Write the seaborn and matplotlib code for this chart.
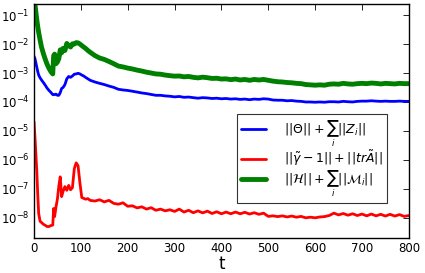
import numpy as np
import pandas as pd
import matplotlib
matplotlib.use("Agg")
import matplotlib.pyplot as plt
import seaborn as sns

# time samples (denser where the curves move fast)
t = [0, 2, 4, 6, 8, 10, 13, 16, 20, 24, 28, 32, 36, 40, 42, 44, 47, 50, 53, 56,
     59, 62, 66, 70, 74, 78, 82, 86, 90, 94, 98, 102, 106, 110, 115, 120,
     130, 140, 150, 160, 170, 180, 190, 200, 210, 220, 230, 240, 250, 260,
     270, 280, 290, 300, 310, 320, 330, 340, 350, 360, 370, 380, 390, 400,
     410, 420, 430, 440, 450, 460, 470, 480, 490, 500, 510, 520, 530, 540,
     550, 560, 570, 580, 590, 600, 610, 620, 630, 640, 650, 660, 670, 680,
     690, 700, 710, 720, 730, 740, 750, 760, 770, 780, 790, 800]

theta_z = [3.8e-3, 3.16e-3, 2.24e-3, 1.58e-3, 1.12e-3, 8.5e-4, 6.8e-4, 5.75e-4,
           4.7e-4, 3.8e-4, 3.0e-4, 2.5e-4, 2.15e-4, 1.8e-4, 1.78e-4, 1.82e-4,
           1.86e-4, 1.7e-4, 1.7e-4, 2.1e-4, 2.95e-4, 3.16e-4, 4.0e-4, 6.3e-4,
           7.6e-4, 7.1e-4, 7.9e-4, 9.1e-4, 9.3e-4, 9.8e-4, 9.3e-4, 8.5e-4,
           7.9e-4, 7.1e-4, 6.3e-4, 5.6e-4,
           4.9e-4, 4.4e-4, 4.0e-4, 3.55e-4, 3.2e-4, 2.75e-4, 2.6e-4, 2.5e-4,
           2.35e-4, 2.2e-4, 2.05e-4, 1.95e-4, 1.82e-4, 1.7e-4, 1.7e-4, 1.62e-4,
           1.58e-4, 1.5e-4, 1.55e-4, 1.45e-4, 1.48e-4, 1.41e-4, 1.35e-4, 1.41e-4,
           1.38e-4, 1.32e-4, 1.35e-4, 1.29e-4, 1.32e-4, 1.26e-4, 1.29e-4, 1.23e-4,
           1.26e-4, 1.2e-4, 1.26e-4, 1.23e-4, 1.29e-4, 1.26e-4, 1.17e-4, 1.15e-4,
           1.15e-4, 1.1e-4, 1.12e-4, 1.07e-4, 1.05e-4, 1.0e-4, 1.0e-4, 9.8e-5,
           1.0e-4, 9.8e-5, 1.02e-4, 1.02e-4, 1.0e-4, 1.05e-4, 1.02e-4, 1.0e-4,
           1.05e-4, 1.07e-4, 1.07e-4, 1.1e-4, 1.07e-4, 1.05e-4, 1.07e-4, 1.05e-4,
           1.05e-4, 1.07e-4, 1.05e-4, 1.05e-4]

gamma_tra = [2.1e-5, 6.3e-6, 1.6e-6, 4.0e-7, 6.3e-8, 1.4e-8, 7.6e-9, 6.9e-9,
             6.0e-9, 5.5e-9, 5.0e-9, 5.0e-9, 5.4e-9, 5.6e-9, 2.1e-8, 1.1e-8,
             2.4e-8, 4.5e-8, 1.26e-7, 2.6e-7, 5.4e-8, 8.1e-8, 1.2e-7, 8.9e-8,
             1.32e-7, 9.3e-8, 1.1e-7, 5.0e-7, 7.9e-7, 6.3e-7, 1.6e-7, 5.0e-8,
             4.7e-8, 4.4e-8, 4.6e-8, 4.0e-8,
             3.8e-8, 4.2e-8, 3.55e-8, 4.0e-8, 3.16e-8, 2.95e-8, 3.3e-8, 2.5e-8,
             2.6e-8, 2.2e-8, 2.4e-8, 2.0e-8, 2.24e-8, 1.82e-8, 2.0e-8, 1.74e-8,
             1.9e-8, 1.66e-8, 2.0e-8, 1.58e-8, 1.82e-8, 1.5e-8, 1.74e-8, 1.48e-8,
             1.7e-8, 1.41e-8, 1.62e-8, 1.38e-8, 1.58e-8, 1.38e-8, 1.58e-8, 1.38e-8,
             1.55e-8, 1.35e-8, 1.5e-8, 1.32e-8, 1.45e-8, 1.12e-8, 1.17e-8, 1.1e-8,
             1.17e-8, 1.07e-8, 1.15e-8, 1.05e-8, 1.12e-8, 1.0e-8, 1.05e-8, 1.0e-8,
             1.07e-8, 1.1e-8, 1.2e-8, 1.45e-8, 1.26e-8, 1.41e-8, 1.23e-8, 1.38e-8,
             1.2e-8, 1.35e-8, 1.17e-8, 1.35e-8, 1.17e-8, 1.32e-8, 1.15e-8, 1.32e-8,
             1.15e-8, 1.29e-8, 1.12e-8, 1.2e-8]

h_m = [0.3, 0.24, 0.126, 0.068, 0.04, 0.025, 0.0138, 7.9e-3, 4.7e-3, 3.0e-3,
       2.0e-3, 1.45e-3, 1.12e-3, 9.3e-4, 4.0e-3, 4.5e-3, 2.1e-3, 2.4e-3,
       3.16e-3, 6.3e-3, 5.0e-3, 7.1e-3, 6.0e-3, 0.0105, 8.9e-3, 7.9e-3,
       0.0102, 0.01, 0.0112, 0.011, 0.01, 8.9e-3, 7.9e-3, 7.1e-3, 6.0e-3, 5.2e-3,
       4.0e-3, 3.3e-3, 2.95e-3, 2.5e-3, 2.1e-3, 1.74e-3, 1.62e-3, 1.48e-3,
       1.38e-3, 1.26e-3, 1.17e-3, 1.07e-3, 1.0e-3, 9.3e-4, 9.1e-4, 8.5e-4,
       8.1e-4, 7.8e-4, 7.9e-4, 7.4e-4, 7.6e-4, 7.1e-4, 6.8e-4, 7.2e-4,
       6.9e-4, 6.5e-4, 6.6e-4, 6.2e-4, 6.3e-4, 5.9e-4, 6.2e-4, 5.75e-4,
       6.0e-4, 5.6e-4, 6.0e-4, 5.75e-4, 6.0e-4, 5.6e-4, 5.25e-4, 5.0e-4,
       4.9e-4, 4.7e-4, 4.6e-4, 4.4e-4, 4.3e-4, 4.0e-4, 3.9e-4, 3.8e-4,
       3.9e-4, 3.8e-4, 4.1e-4, 4.2e-4, 4.1e-4, 4.4e-4, 4.2e-4, 4.1e-4,
       4.3e-4, 4.4e-4, 4.3e-4, 4.5e-4, 4.4e-4, 4.2e-4, 4.4e-4, 4.3e-4,
       4.2e-4, 4.4e-4, 4.3e-4, 4.3e-4]

labels = [r"$||\Theta||+\sum_i||Z_i||$",
          r"$||\tilde{\gamma}-1||+||tr\tilde{A}||$",
          r"$||\mathcal{H}||+\sum_i||\mathcal{M}_i||$"]
colors = ["#0000ff", "#ff0000", "#008000"]
widths = [2.0, 2.0, 3.5]

df = pd.DataFrame({"t": t, labels[0]: theta_z, labels[1]: gamma_tra, labels[2]: h_m})
long = df.melt(id_vars="t", var_name="norm", value_name="value")

sns.set_style("white", {"text.color": "black", "xtick.color": "black",
                        "ytick.color": "black", "axes.labelcolor": "black"})
plt.rcParams["font.family"] = ["DejaVu Sans"]

fig = plt.figure(figsize=(4.25, 2.73), dpi=100)
ax = fig.add_axes([0.08, 0.128, 0.882, 0.857])

for lab, col, lw in zip(labels, colors, widths):
    sns.lineplot(data=long[long["norm"] == lab], x="t", y="value", color=col,
                 linewidth=lw, label=lab, ax=ax)

ax.set_yscale("log")
ax.set_xlim(0, 800)
ax.set_ylim(2.0e-9, 0.24)
ax.set_xticks(range(0, 801, 100))
ax.set_yticks([1e-8, 1e-7, 1e-6, 1e-5, 1e-4, 1e-3, 1e-2, 1e-1])
ax.minorticks_off()
ax.tick_params(direction="in", top=True, right=True, length=4, width=0.6,
               labelsize=8.5, pad=3, colors="black")
ax.set_xlabel("t", fontsize=12, labelpad=0, color="black")
ax.set_ylabel("")
for sp in ax.spines.values():
    sp.set_color("black")
    sp.set_linewidth(1.0)

leg = ax.legend(loc="upper left", bbox_to_anchor=(0.541, 0.53), borderaxespad=0,
                fontsize=9, fancybox=False, frameon=True, handlelength=2.0,
                handletextpad=1.4, labelspacing=0.0, borderpad=0.35)
leg.get_frame().set_edgecolor("black")
leg.get_frame().set_linewidth(0.8)
for txt in leg.get_texts():
    txt.set_color("black")

fig.savefig("out.png", dpi=100)
